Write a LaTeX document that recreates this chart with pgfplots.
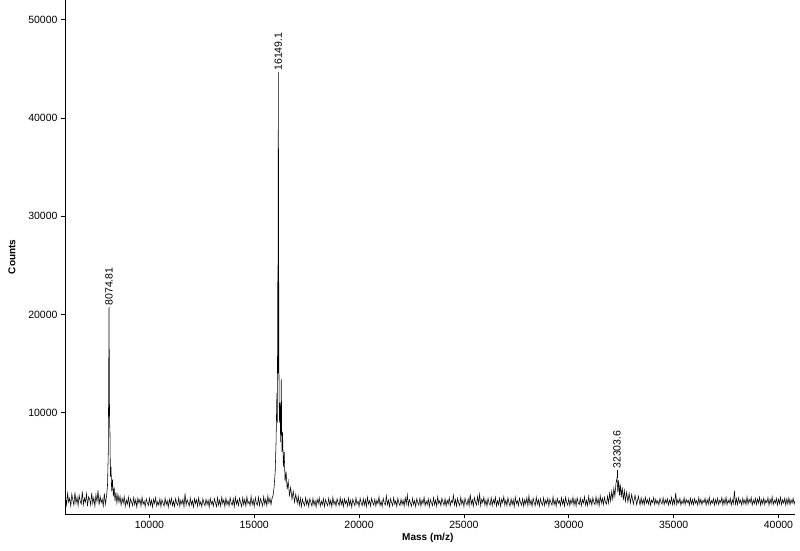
\documentclass[border=0pt]{standalone}
\usepackage{fontspec}
\setmainfont{Liberation Sans}
\usepackage{pgfplots}
\pgfplotsset{compat=1.18}

\begin{document}
\begin{tikzpicture}[x=1pt,y=1pt]
\useasboundingbox (-65,-37) rectangle (735,514);
\begin{axis}[
    at={(0,0)}, anchor=south west,
    scale only axis,
    width=730pt, height=514pt,
    xmin=5975, xmax=40790,
    ymin=-305, ymax=52010,
    axis x line=bottom, axis y line=left,
    axis line style={-, line width=0.8pt},
    tick align=outside,
    major tick length=4pt,
    tick style={line width=0.7pt, black},
    xtick={10000,15000,20000,25000,30000,35000,40000},
    ytick={10000,20000,30000,40000,50000},
    scaled ticks=false,
    /pgf/number format/1000 sep={},
    /pgf/number format/assume math mode=true,
    tick label style={font=\fontsize{10.5}{12}\selectfont},
    xlabel={\bfseries Mass (m/z)},
    ylabel={\bfseries Counts},
    label style={font=\fontsize{10}{12}\selectfont},
    xlabel style={at={(axis description cs:0.497,-0.0467)}, anchor=center},
    ylabel style={at={(axis description cs:-0.0726,0.5)}, anchor=center},
    clip=false,
  ]
  % spectrum
  \addplot[black, line width=0.55pt] coordinates {
(6000,1500)(6050,600)(6100,1800)(6150,900)(6200,1300)(6250,500)(6300,1700)(6350,1100)(6400,600)(6450,1900)
(6500,800)(6550,1400)(6600,550)(6650,1600)(6700,1000)(6750,700)(6800,2000)(6850,650)(6900,1300)(6950,900)
(7000,1750)(7050,500)(7100,1450)(7150,1200)(7200,600)(7250,1850)(7300,750)(7350,1350)(7400,500)(7450,1650)
(7500,950)(7550,2100)(7600,600)(7650,1500)(7700,850)(7750,1200)(7800,500)(7850,1800)(7900,700)(7950,1400)
(8000,2500)(8040,6000)(8075,20800)(8100,9000)(8120,8000)(8140,3500)(8170,4500)(8200,2000)(8240,3200)(8280,1500)
(8320,2400)(8360,1000)(8400,1900)(8450,800)(8500,1700)
(8550,900)(8600,1500)(8650,600)(8700,1300)(8750,800)(8800,1450)(8850,500)(8900,1100)(8950,700)(9000,1400)
(9050,450)(9100,1250)(9150,900)(9200,550)(9250,1350)(9300,650)(9350,1150)(9400,400)(9450,1300)(9500,800)
(9550,1200)(9600,500)(9650,1400)(9700,700)(9750,1000)(9800,450)(9850,1250)(9900,850)(9950,550)(10000,1300)
(10050,600)(10100,1100)(10150,400)(10200,1200)(10250,750)(10300,1350)(10350,500)(10400,950)(10450,600)(10500,1250)
(10550,450)(10600,1150)(10650,800)(10700,500)(10750,1300)(10800,650)(10850,1050)(10900,400)(10950,1200)(11000,700)
(11050,1300)(11100,550)(11150,1000)(11200,450)(11250,1250)(11300,800)(11350,600)(11400,1350)(11450,500)(11500,1100)
(11550,700)(11600,1200)(11650,450)(11700,1800)(11750,600)(11800,1150)(11850,850)(11900,500)(11950,1300)(12000,650)
(12050,1050)(12100,400)(12150,1250)(12200,750)(12250,1150)(12300,500)(12350,1350)(12400,600)(12450,950)(12500,450)
(12550,1250)(12600,800)(12650,550)(12700,1200)(12750,650)(12800,1100)(12850,400)(12900,1300)(12950,700)(13000,1000)
(13050,500)(13100,1250)(13150,850)(13200,450)(13250,1350)(13300,600)(13350,1100)(13400,500)(13450,1400)(13500,750)
(13550,1150)(13600,450)(13650,1300)(13700,650)(13750,1050)(13800,500)(13850,1350)(13900,800)(13950,600)(14000,1250)
(14050,450)(14100,1400)(14150,700)(14200,1100)(14250,550)(14300,1300)(14350,850)(14400,450)(14450,1350)(14500,650)
(14550,1200)(14600,500)(14650,1450)(14700,750)(14750,1000)(14800,550)(14850,1500)(14900,650)(14950,1150)(15000,450)
(15050,1350)(15100,800)(15150,600)(15200,1400)(15250,550)(15300,1250)(15350,900)(15400,500)(15450,1450)(15500,700)
(15550,1200)(15600,550)(15650,1550)(15700,800)(15750,1300)(15800,650)
(15850,1300)(15900,1600)(15950,2500)(16000,4000)(16040,7000)(16080,12000)(16100,9000)(16125,25000)(16135,14000)(16149,44700)
(16175,15000)(16200,9000)(16230,11000)(16260,7000)(16290,13400)(16320,6000)(16350,8000)(16390,4500)(16430,6000)(16470,3000)
(16520,4000)(16570,2200)(16620,3000)(16680,1600)(16740,2400)(16800,1200)(16860,2000)(16920,900)(16980,1700)(17050,800)
(17100,1500)(17150,600)(17200,1300)(17250,450)(17300,1200)(17350,800)(17400,550)(17450,1350)(17500,650)(17550,1100)
(17600,450)(17650,1250)(17700,900)(17750,500)(17800,1300)(17850,600)(17900,1050)(17950,400)(18000,1200)(18050,750)
(18100,1350)(18150,500)(18200,1000)(18250,650)(18300,1250)(18350,450)(18400,1150)(18450,800)(18500,550)(18550,1300)
(18600,600)(18650,1100)(18700,450)(18750,1400)(18800,700)(18850,1000)(18900,500)(18950,1250)(19000,850)(19050,550)
(19100,1350)(19150,650)(19200,1150)(19250,450)(19300,1250)(19350,750)(19400,1050)(19450,500)(19500,1300)(19550,600)
(19600,1100)(19650,400)(19700,1200)(19750,850)(19800,550)(19850,1350)(19900,700)(19950,1000)(20000,450)(20050,1300)
(20100,800)(20150,550)(20200,1250)(20250,600)(20300,1150)(20350,450)(20400,1400)(20450,700)(20500,1050)(20550,500)
(20600,1300)(20650,850)(20700,600)(20750,1200)(20800,500)(20850,1100)(20900,750)(20950,1450)(21000,550)(21050,1000)
(21100,450)(21150,1300)(21200,800)(21250,600)(21300,1550)(21350,650)(21400,1100)(21450,450)(21500,1250)(21550,850)
(21600,550)(21650,1350)(21700,700)(21750,1050)(21800,450)(21850,1300)(21900,800)(21950,550)(22000,1200)(22050,650)
(22100,1100)(22150,500)(22200,1350)(22250,700)(22300,1650)(22350,550)(22400,1150)(22450,800)(22500,500)(22550,1300)
(22600,650)(22650,1050)(22700,450)(22750,1250)(22800,850)(22850,600)(22900,1300)(22950,500)(23000,1100)(23050,750)
(23100,1400)(23150,550)(23200,1000)(23250,650)(23300,1250)(23350,450)(23400,1150)(23450,850)(23500,550)(23550,1350)
(23600,650)(23650,1100)(23700,500)(23750,1450)(23800,750)(23850,1050)(23900,550)(23950,1300)(24000,900)(24050,600)
(24100,1250)(24150,500)(24200,1100)(24250,700)(24300,1350)(24350,550)(24400,1050)(24450,850)(24500,1600)(24550,600)
(24600,1150)(24650,500)(24700,1300)(24750,800)(24800,550)(24850,1400)(24900,700)(24950,1100)(25000,450)(25050,1300)
(25100,850)(25150,600)(25200,1250)(25250,550)(25300,1700)(25350,700)(25400,1150)(25450,500)(25500,1350)(25550,900)
(25600,600)(25650,1450)(25700,750)(25750,1700)(25800,550)(25850,1200)(25900,850)(25950,1400)(26000,600)(26050,1100)
(26100,500)(26150,1300)(26200,800)(26250,600)(26300,1350)(26350,550)(26400,1150)(26450,750)(26500,1400)(26550,500)
(26600,1050)(26650,650)(26700,1300)(26750,500)(26800,1200)(26850,850)(26900,1450)(26950,600)(27000,1100)(27050,550)
(27100,1350)(27150,800)(27200,500)(27250,1250)(27300,650)(27350,1150)(27400,450)(27450,1400)(27500,750)(27550,1050)
(27600,550)(27650,1300)(27700,850)(27750,600)(27800,1250)(27850,500)(27900,1150)(27950,700)(28000,1350)(28050,550)
(28100,1550)(28150,650)(28200,1100)(28250,500)(28300,1300)(28350,850)(28400,550)(28450,1400)(28500,700)(28550,1150)
(28600,500)(28650,1250)(28700,800)(28750,600)(28800,1350)(28850,550)(28900,1100)(28950,750)(29000,1300)(29050,500)
(29100,1200)(29150,850)(29200,600)(29250,1450)(29300,650)(29350,1100)(29400,500)(29450,1300)(29500,800)(29550,1050)
(29600,550)(29650,1350)(29700,700)(29750,1150)(29800,500)(29850,1400)(29900,850)(29950,600)(30000,1250)(30050,550)
(30100,1150)(30150,750)(30200,1400)(30250,600)(30300,1200)(30350,500)(30400,1350)(30450,850)(30500,650)(30550,1300)
(30600,550)(30650,1150)(30700,800)(30750,1450)(30800,600)(30850,1100)(30900,550)(30950,1500)(31000,750)(31050,1200)
(31100,600)(31150,1350)(31200,850)(31250,650)(31300,1450)(31350,700)(31400,1250)(31450,550)(31500,1550)(31550,800)
(31600,1300)(31650,650)(31700,1400)(31750,900)
(31800,700)(31850,1500)(31900,800)(31950,1800)(32000,1000)(32050,2000)(32100,1200)(32150,2300)(32200,1500)(32250,2800)
(32303,3400)(32340,1900)(32380,3150)(32420,1600)(32460,2700)(32500,1400)(32550,2400)(32600,1100)(32650,2100)(32700,1000)
(32760,1900)(32820,900)(32880,1800)(32940,800)(33000,1700)(33080,700)(33160,1600)(33240,650)(33320,1500)(33400,600)
(33450,1350)(33500,700)(33550,1200)(33600,650)(33650,1400)(33700,800)(33750,1150)(33800,700)(33850,1300)(33900,600)
(33950,1100)(34000,850)(34050,1350)(34100,650)(34150,1200)(34200,750)(34250,1050)(34300,600)(34350,1300)(34400,900)
(34450,700)(34500,1350)(34550,650)(34600,1150)(34650,800)(34700,1250)(34750,600)(34800,1100)(34850,750)(34900,1400)
(34950,650)(35000,1200)(35050,700)(35100,1850)(35150,650)(35200,1150)(35250,800)(35300,1300)(35350,600)(35400,1050)
(35450,750)(35500,1350)(35550,650)(35600,1200)(35650,850)(35700,1100)(35750,600)(35800,1300)(35850,700)(35900,1150)
(35950,650)(36000,1250)(36050,800)(36100,1050)(36150,600)(36200,1350)(36250,750)(36300,1200)(36350,650)(36400,1100)
(36450,850)(36500,1300)(36550,600)(36600,1150)(36650,700)(36700,1400)(36750,650)(36800,1050)(36850,800)(36900,1250)
(36950,600)(37000,1150)(37050,750)(37100,1300)(37150,650)(37200,1100)(37250,850)(37300,1350)(37350,600)(37400,1200)
(37450,700)(37500,1400)(37550,650)(37600,1100)(37650,800)(37700,1300)(37750,600)(37800,1150)(37850,750)(37900,2050)
(37950,700)(38000,1250)(38050,650)(38100,1350)(38150,800)(38200,1100)(38250,600)(38300,1300)(38350,750)(38400,1150)
(38450,650)(38500,1450)(38550,700)(38600,1200)(38650,850)(38700,1350)(38750,600)(38800,1100)(38850,750)(38900,1300)
(38950,650)(39000,1200)(39050,800)(39100,1400)(39150,600)(39200,1150)(39250,750)(39300,1300)(39350,650)(39400,1100)
(39450,850)(39500,1350)(39550,600)(39600,1200)(39650,750)(39700,1450)(39750,650)(39800,1100)(39850,800)(39900,1300)
(39950,600)(40000,1200)(40050,750)(40100,1400)(40150,650)(40200,1150)(40250,800)(40300,1300)(40350,600)(40400,1250)
(40450,700)(40500,1350)(40550,650)(40600,1150)(40650,800)(40700,1300)(40750,700)(40780,1000)
  };
  \node[rotate=90, anchor=west, inner sep=1pt, font=\fontsize{10.5}{12}\selectfont] at (axis cs:8075,20800) {8074.81};
  \node[rotate=90, anchor=west, inner sep=1pt, font=\fontsize{10.5}{12}\selectfont] at (axis cs:16149,44700) {16149.1};
  \node[rotate=90, anchor=west, inner sep=1pt, font=\fontsize{10.5}{12}\selectfont] at (axis cs:32303,4200) {32303.6};
  \addplot[black, line width=0.55pt] coordinates {(32303,3400) (32303,4200)};
\end{axis}
\end{tikzpicture}
\end{document}
